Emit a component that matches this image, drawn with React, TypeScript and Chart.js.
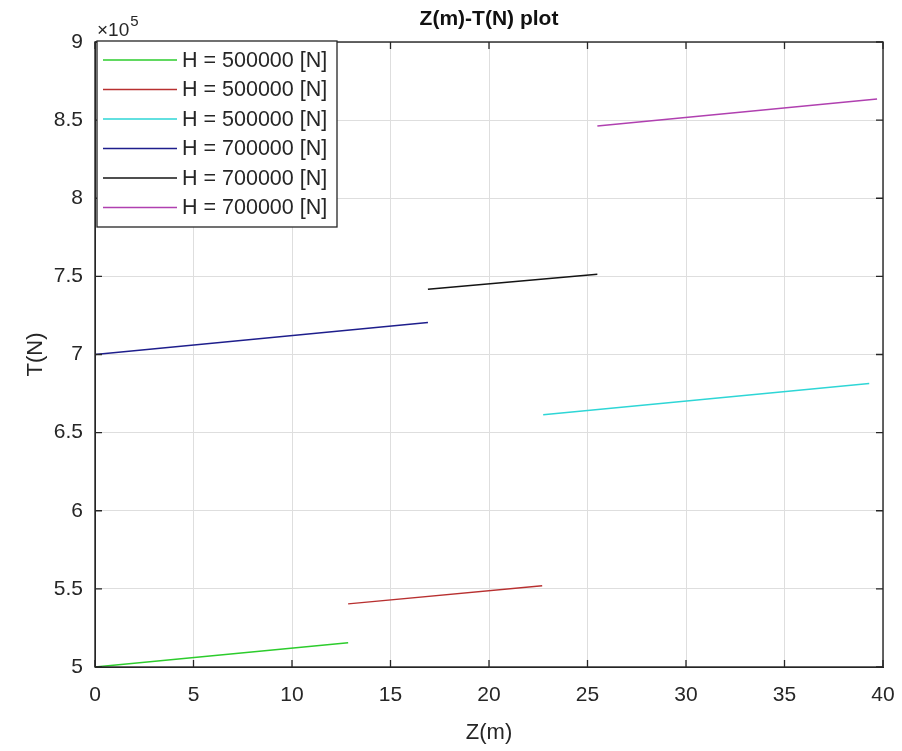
import React, { useEffect, useRef } from "react";
import { Chart, registerables } from "chart.js";

Chart.register(...registerables);

// ---- data ----
const SERIES_LABELS = [
  "H = 500000 [N]",
  "H = 500000 [N]",
  "H = 500000 [N]",
  "H = 700000 [N]",
  "H = 700000 [N]",
  "H = 700000 [N]",
];
const SERIES_COLORS = ["#2ccc2c", "#b83030", "#2ed6d6", "#1e1e8c", "#141414", "#b040b0"];

const Z_GREEN = [0, 12.85];
const T_GREEN = [500000, 515500];
const Z_RED = [12.85, 22.7];
const T_RED = [540400, 552000];
const Z_CYAN = [22.75, 39.3];
const T_CYAN = [661500, 681500];
const Z_BLUE = [0, 16.9];
const T_BLUE = [700000, 720500];
const Z_BLACK = [16.9, 25.5];
const T_BLACK = [741700, 751300];
const Z_MAGENTA = [25.5, 39.7];
const T_MAGENTA = [846200, 863500];

const Z_SERIES = [Z_GREEN, Z_RED, Z_CYAN, Z_BLUE, Z_BLACK, Z_MAGENTA];
const T_SERIES = [T_GREEN, T_RED, T_CYAN, T_BLUE, T_BLACK, T_MAGENTA];

const X_MIN = 0;
const X_MAX = 40;
const X_STEP = 5;
const Y_MIN = 500000;
const Y_MAX = 900000;
const Y_STEP = 50000;
const Y_EXP = 5;

const TITLE = "Z(m)-T(N) plot";
const X_LABEL = "Z(m)";
const Y_LABEL = "T(N)";

const FONT = "'Liberation Sans', Arial, Helvetica, sans-serif";
const AXIS_COLOR = "#262626";

const W = 902;
const H = 751;

const decorPlugin = {
  id: "matlabDecor",
  afterDraw(chart: any) {
    const ctx = chart.ctx as CanvasRenderingContext2D;
    const { left, right, top, bottom } = chart.chartArea;
    const xs = chart.scales.x;
    const ys = chart.scales.y;
    ctx.save();

    // box
    ctx.strokeStyle = AXIS_COLOR;
    ctx.lineWidth = 1.4;
    ctx.strokeRect(left, top, right - left, bottom - top);

    // inward ticks
    const tl = 7;
    ctx.lineWidth = 1.3;
    ctx.beginPath();
    for (let v = X_MIN; v <= X_MAX + 1e-9; v += X_STEP) {
      const px = xs.getPixelForValue(v);
      ctx.moveTo(px, bottom);
      ctx.lineTo(px, bottom - tl);
      ctx.moveTo(px, top);
      ctx.lineTo(px, top + tl);
    }
    for (let v = Y_MIN; v <= Y_MAX + 1e-9; v += Y_STEP) {
      const py = ys.getPixelForValue(v);
      ctx.moveTo(left, py);
      ctx.lineTo(left + tl, py);
      ctx.moveTo(right, py);
      ctx.lineTo(right - tl, py);
    }
    ctx.stroke();

    // exponent label
    ctx.fillStyle = AXIS_COLOR;
    ctx.textBaseline = "alphabetic";
    ctx.textAlign = "left";
    ctx.font = `19px ${FONT}`;
    const ex = left + 2;
    const ey = top - 6;
    ctx.fillText("\u00d710", ex, ey);
    const w10 = ctx.measureText("\u00d710").width;
    ctx.font = `15px ${FONT}`;
    ctx.fillText(String(Y_EXP), ex + w10 + 1, ey - 10);

    // title
    ctx.font = `bold 21px ${FONT}`;
    ctx.textAlign = "center";
    ctx.textBaseline = "middle";
    ctx.fillStyle = "#111";
    ctx.fillText(TITLE, (left + right) / 2, 19);

    // axis labels
    ctx.font = `22px ${FONT}`;
    ctx.fillStyle = AXIS_COLOR;
    ctx.fillText(X_LABEL, (left + right) / 2, 733);
    ctx.save();
    ctx.translate(36, (top + bottom) / 2);
    ctx.rotate(-Math.PI / 2);
    ctx.fillText(Y_LABEL, 0, 0);
    ctx.restore();

    // legend
    const lx = left + 2;
    const ly = top - 1;
    const lw = 240;
    const rowH = 29.5;
    const n = chart.data.datasets.length;
    const lh = 186;
    ctx.fillStyle = "#ffffff";
    ctx.fillRect(lx, ly, lw, lh);
    ctx.strokeStyle = AXIS_COLOR;
    ctx.lineWidth = 1.3;
    ctx.strokeRect(lx, ly, lw, lh);
    ctx.font = `21.5px ${FONT}`;
    ctx.textAlign = "left";
    ctx.textBaseline = "middle";
    for (let i = 0; i < n; i++) {
      const ds = chart.data.datasets[i];
      const cy = ly + 19 + i * rowH;
      ctx.strokeStyle = ds.borderColor;
      ctx.lineWidth = 1.5;
      ctx.beginPath();
      ctx.moveTo(lx + 6, cy);
      ctx.lineTo(lx + 80, cy);
      ctx.stroke();
      ctx.fillStyle = AXIS_COLOR;
      ctx.fillText(ds.label, lx + 85, cy + 1);
    }
    ctx.restore();
  },
};

export default function App() {
  const ref = useRef<HTMLCanvasElement | null>(null);

  useEffect(() => {
    if (!ref.current) return;
    const datasets = SERIES_LABELS.map((label, i) => ({
      label,
      data: Z_SERIES[i].map((z, j) => ({ x: z, y: T_SERIES[i][j] })),
      borderColor: SERIES_COLORS[i],
      backgroundColor: SERIES_COLORS[i],
      borderWidth: 1.5,
      pointRadius: 0,
      fill: false,
      tension: 0,
    }));

    const chart = new Chart(ref.current, {
      type: "line",
      data: { datasets },
      options: {
        animation: false,
        responsive: false,
        maintainAspectRatio: false,
        devicePixelRatio: 1,
        layout: { padding: { top: 42, right: 19, left: 0, bottom: 0 } },
        plugins: {
          legend: { display: false },
          title: { display: false },
          tooltip: { enabled: false },
        },
        scales: {
          x: {
            type: "linear",
            min: X_MIN,
            max: X_MAX,
            afterFit: (s: any) => {
              s.height = 84;
              s.paddingLeft = 0;
              s.paddingRight = 0;
            },
            ticks: {
              stepSize: X_STEP,
              padding: 16,
              maxRotation: 0,
              color: AXIS_COLOR,
              font: { family: FONT, size: 21 },
            },
            grid: { color: "#dedede", lineWidth: 1, drawTicks: false },
            border: { display: true, color: AXIS_COLOR },
          },
          y: {
            type: "linear",
            min: Y_MIN,
            max: Y_MAX,
            afterFit: (s: any) => {
              s.width = 95;
              s.paddingTop = 0;
              s.paddingBottom = 0;
            },
            ticks: {
              stepSize: Y_STEP,
              padding: 12,
              color: AXIS_COLOR,
              font: { family: FONT, size: 21 },
              callback: (v: any) => String(Number(v) / Math.pow(10, Y_EXP)),
            },
            grid: { color: "#dedede", lineWidth: 1, drawTicks: false },
            border: { display: true, color: AXIS_COLOR },
          },
        },
      },
      plugins: [decorPlugin],
    });
    return () => chart.destroy();
  }, []);

  return (
    <div
      style={{
        position: "fixed",
        left: 0,
        top: 0,
        width: W,
        height: H,
        background: "#ffffff",
      }}
    >
      <canvas ref={ref} width={W} height={H} style={{ width: W, height: H, display: "block" }} />
    </div>
  );
}
